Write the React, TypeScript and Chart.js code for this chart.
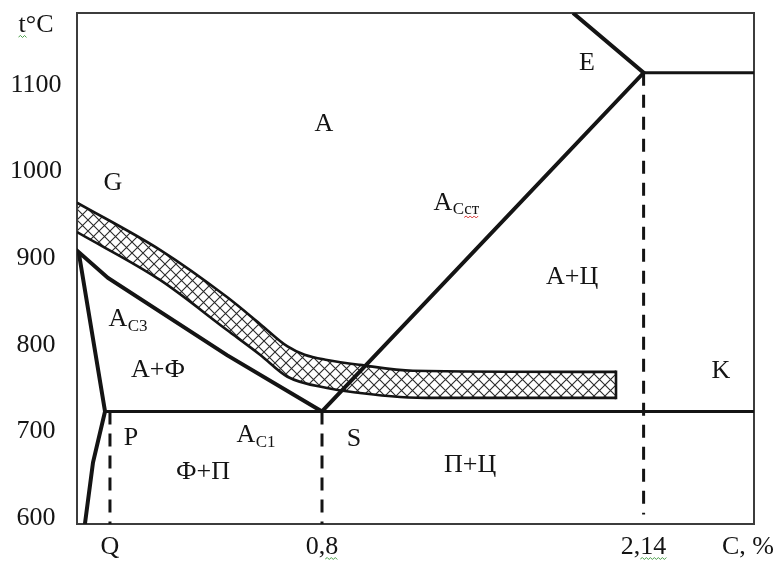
import React, { useEffect, useRef } from 'react';
import { Chart, LinearScale, registerables } from 'chart.js';

// Temperature axis, °C
const T_MIN = 593;
const T_MAX = 1183;
const T_TICKS = [600, 700, 800, 900, 1000, 1100];

// Carbon axis, % C
const C_MIN = 0;
const C_MAX = 2.6;
const C_TICKS = [0.02, 0.8, 2.14];
const C_TICK_LABELS = ['Q', '0,8', '2,14'];

// The carbon axis is schematic: the narrow ferrite corner (0 … 0.02 %) is stretched
const C_KNOTS = [0, 0.02, 0.8, 2.6];
const C_FRACTIONS = [0, 0.0487, 0.3619, 1];

// Phase boundaries as [carbon %, temperature °C]
const LINE_S_G_P_Q: [number, number][] = [
  [0.8, 723], [0.4505, 788], [0.0188, 877], [0.001, 907],
  [0.017, 723], [0.0097, 664], [0.0048, 593],
];
const LINE_PSK: [number, number][] = [[0.017, 723], [2.6, 723]];
const LINE_SE: [number, number][] = [[0.8, 723], [2.14, 1114], [1.846, 1183]];
const LINE_EF: [number, number][] = [[2.14, 1114], [2.6, 1114]];
const DASH_P: [number, number][] = [[0.02, 723], [0.02, 593]];
const DASH_S: [number, number][] = [[0.8, 723], [0.8, 593]];
const DASH_E: [number, number][] = [[2.14, 1114], [2.14, 604]];

// Hatched critical-point band: upper edge, lower edge and closing end
const BAND_UPPER: [number, number][] = [
  [0, 964], [0.204, 909.5], [0.4505, 855], [0.572, 824], [0.673, 798],
  [0.736, 788.5], [0.821, 782.4], [0.958, 776.7], [1.179, 770], [2.025, 768.6],
];
const BAND_LOWER: [number, number][] = [
  [0, 930], [0.204, 874.8], [0.4505, 817], [0.572, 788.5], [0.673, 763],
  [0.821, 750], [0.958, 744.3], [1.125, 739.7], [1.279, 738.6], [2.025, 738.6],
];
const BAND_END: [number, number][] = [[2.025, 768.6], [2.025, 738.6]];

// Region and point labels
const REGION_LABELS: { text: string; sub?: string; c: number; t: number }[] = [
  { text: 'E', c: 1.904, t: 1125 },
  { text: 'A', c: 0.808, t: 1055 },
  { text: 'G', c: 0.031, t: 987 },
  { text: 'A', sub: 'Cст', c: 1.304, t: 964 },
  { text: 'A+Ц', c: 1.842, t: 878 },
  { text: 'A', sub: 'C3', c: 0.049, t: 829 },
  { text: 'A+Ф', c: 0.197, t: 771 },
  { text: 'K', c: 2.4625, t: 769 },
  { text: 'P', c: 0.097, t: 692 },
  { text: 'A', sub: 'C1', c: 0.52, t: 695 },
  { text: 'S', c: 0.933, t: 691 },
  { text: 'П+Ц', c: 1.417, t: 661 },
  { text: 'Ф+П', c: 0.362, t: 653 },
];

const FONT = '"Liberation Serif", "Times New Roman", serif';
const INK = '#141414';
const SPELL_GREEN = '#4a9e4a';
const SPELL_RED = '#d83a3a';

function toFraction(v: number): number {
  let i = 0;
  while (i < C_KNOTS.length - 2 && v > C_KNOTS[i + 1]) i++;
  const t = (v - C_KNOTS[i]) / (C_KNOTS[i + 1] - C_KNOTS[i]);
  return C_FRACTIONS[i] + t * (C_FRACTIONS[i + 1] - C_FRACTIONS[i]);
}

function fromFraction(f: number): number {
  let i = 0;
  while (i < C_FRACTIONS.length - 2 && f > C_FRACTIONS[i + 1]) i++;
  const t = (f - C_FRACTIONS[i]) / (C_FRACTIONS[i + 1] - C_FRACTIONS[i]);
  return C_KNOTS[i] + t * (C_KNOTS[i + 1] - C_KNOTS[i]);
}

class SchematicScale extends LinearScale {
  static id = 'schematic';
  static defaults = LinearScale.defaults;
  getPixelForValue(value: number) {
    if (value === null || value === undefined) return NaN;
    return this.getPixelForDecimal(toFraction(value));
  }
  getValueForPixel(pixel: number) {
    return fromFraction(this.getDecimalForPixel(pixel));
  }
}

Chart.register(...registerables, SchematicScale);

const pts = (arr: [number, number][]) => arr.map(([x, y]) => ({ x, y }));

function makeHatch(): CanvasPattern | string {
  const size = 11;
  const c = document.createElement('canvas');
  c.width = size;
  c.height = size;
  const g = c.getContext('2d');
  if (!g) return '#ccc';
  g.fillStyle = '#ffffff';
  g.fillRect(0, 0, size, size);
  g.strokeStyle = '#2a2a2a';
  g.lineWidth = 1.1;
  g.beginPath();
  g.moveTo(-1, -1);
  g.lineTo(size + 1, size + 1);
  g.moveTo(size + 1, -1);
  g.lineTo(-1, size + 1);
  g.stroke();
  return g.createPattern(c, 'repeat') || '#ccc';
}

// Word-style wavy underline
function squiggle(ctx: CanvasRenderingContext2D, x0: number, x1: number, y: number, color: string) {
  ctx.save();
  ctx.strokeStyle = color;
  ctx.lineWidth = 1;
  ctx.beginPath();
  let up = true;
  ctx.moveTo(x0, y);
  for (let x = x0 + 2; x <= x1; x += 2) {
    ctx.lineTo(x, up ? y - 1.5 : y + 0.5);
    up = !up;
  }
  ctx.stroke();
  ctx.restore();
}

const framePlugin = {
  id: 'frame',
  beforeDatasetsDraw(chart: any) {
    const { ctx, chartArea: a } = chart;
    ctx.save();
    ctx.strokeStyle = '#3c3c3c';
    ctx.lineWidth = 2;
    ctx.strokeRect(a.left, a.top, a.right - a.left, a.bottom - a.top);
    ctx.restore();
  },
};

const labelPlugin = {
  id: 'regionLabels',
  afterDatasetsDraw(chart: any) {
    const { ctx, chartArea: a, scales } = chart;
    const xs = scales.x;
    const ys = scales.y;
    ctx.save();
    ctx.fillStyle = INK;
    for (const l of REGION_LABELS) {
      const px = xs.getPixelForValue(l.c);
      const py = ys.getPixelForValue(l.t);
      ctx.font = `26px ${FONT}`;
      ctx.textAlign = 'center';
      ctx.textBaseline = 'middle';
      ctx.fillText(l.text, px, py);
      if (l.sub) {
        const w = ctx.measureText(l.text).width;
        const sx = px + w / 2 + 0.5;
        const sy = py + 8.8 + 3;
        ctx.font = `17px ${FONT}`;
        ctx.textAlign = 'left';
        ctx.textBaseline = 'alphabetic';
        ctx.fillText(l.sub, sx, sy);
        if (l.sub === 'Cст') {
          const wc = ctx.measureText('C').width;
          const ws = ctx.measureText(l.sub).width;
          squiggle(ctx, sx + wc, sx + ws, sy + 3, SPELL_RED);
        }
      }
    }
    // axis titles
    ctx.font = `26px ${FONT}`;
    ctx.textAlign = 'center';
    ctx.textBaseline = 'middle';
    const tx = a.left - 41;
    const ty = a.top + 12;
    ctx.fillText('t°C', tx, ty);
    const wt = ctx.measureText('t°C').width;
    const wtt = ctx.measureText('t').width;
    squiggle(ctx, tx - wt / 2, tx - wt / 2 + wtt + 2, ty + 12, SPELL_GREEN);
    ctx.fillText('C, %', a.right - 6, a.bottom + 23);

    // underline marks beneath the decimal tick labels
    for (const [i, v] of C_TICKS.entries()) {
      const label = C_TICK_LABELS[i];
      const k = label.indexOf(',');
      if (k < 0) continue;
      const cx = xs.getPixelForValue(v);
      const w = ctx.measureText(label).width;
      const wh = ctx.measureText(label.slice(0, k + 1)).width;
      squiggle(ctx, cx - w / 2 + wh, cx + w / 2, a.bottom + 35, SPELL_GREEN);
    }
    ctx.restore();
  },
};

export default function App() {
  const ref = useRef<HTMLCanvasElement>(null);

  useEffect(() => {
    const canvas = ref.current;
    if (!canvas) return;
    const hatch = makeHatch();
    const solid = (data: [number, number][], width: number) => ({
      data: pts(data),
      borderColor: INK,
      borderWidth: width,
      pointRadius: 0,
      fill: false,
      tension: 0,
    });
    const dashed = (data: [number, number][]) => ({
      ...solid(data, 3),
      borderDash: [13, 9],
    });
    const bandEdge = (data: [number, number][]) => ({
      ...solid(data, 2.6),
      cubicInterpolationMode: 'monotone',
    });

    const chart = new Chart(canvas, {
      type: 'line',
      data: {
        datasets: [
          solid(LINE_SE, 4),
          solid(LINE_EF, 3),
          solid(LINE_PSK, 3),
          solid(LINE_S_G_P_Q, 4),
          dashed(DASH_P),
          dashed(DASH_S),
          dashed(DASH_E),
          { ...solid(BAND_END, 2.6), borderCapStyle: 'square' },
          { ...bandEdge(BAND_UPPER), fill: '+1', backgroundColor: hatch as any },
          bandEdge(BAND_LOWER),
        ] as any,
      },
      options: {
        animation: false,
        responsive: true,
        maintainAspectRatio: false,
        events: [],
        layout: { padding: { top: 13, right: 25, left: 0, bottom: 0 } },
        elements: {
          line: { borderJoinStyle: 'miter', borderCapStyle: 'butt' },
        },
        plugins: {
          legend: { display: false },
          tooltip: { enabled: false },
          filler: { drawTime: 'beforeDatasetsDraw' },
        } as any,
        scales: {
          x: {
            type: 'schematic' as any,
            min: C_MIN,
            max: C_MAX,
            grid: { display: false, drawTicks: false },
            border: { display: false },
            afterBuildTicks: (scale: any) => {
              scale.ticks = C_TICKS.map((v) => ({ value: v }));
            },
            afterFit: (scale: any) => {
              scale.height = 37;
              scale.paddingLeft = 0;
              scale.paddingRight = 0;
            },
            ticks: {
              autoSkip: false,
              maxRotation: 0,
              padding: 8,
              color: INK,
              font: { family: FONT, size: 26 },
              callback: (v: any) => {
                const i = C_TICKS.indexOf(Number(v));
                return i >= 0 ? C_TICK_LABELS[i] : '';
              },
            },
          },
          y: {
            type: 'linear',
            min: T_MIN,
            max: T_MAX,
            grid: { display: false, drawTicks: false },
            border: { display: false },
            afterBuildTicks: (scale: any) => {
              scale.ticks = T_TICKS.map((v) => ({ value: v }));
            },
            afterFit: (scale: any) => {
              scale.width = 77;
              scale.paddingTop = 0;
              scale.paddingBottom = 0;
            },
            ticks: {
              crossAlign: 'center',
              padding: 15,
              color: INK,
              font: { family: FONT, size: 26 },
              callback: (v: any) => String(v),
            },
          },
        } as any,
      },
      plugins: [framePlugin, labelPlugin],
    });
    return () => chart.destroy();
  }, []);

  return (
    <div style={{ position: 'fixed', left: 0, top: 0, width: 779, height: 561, background: '#ffffff' }}>
      <canvas ref={ref} />
    </div>
  );
}
